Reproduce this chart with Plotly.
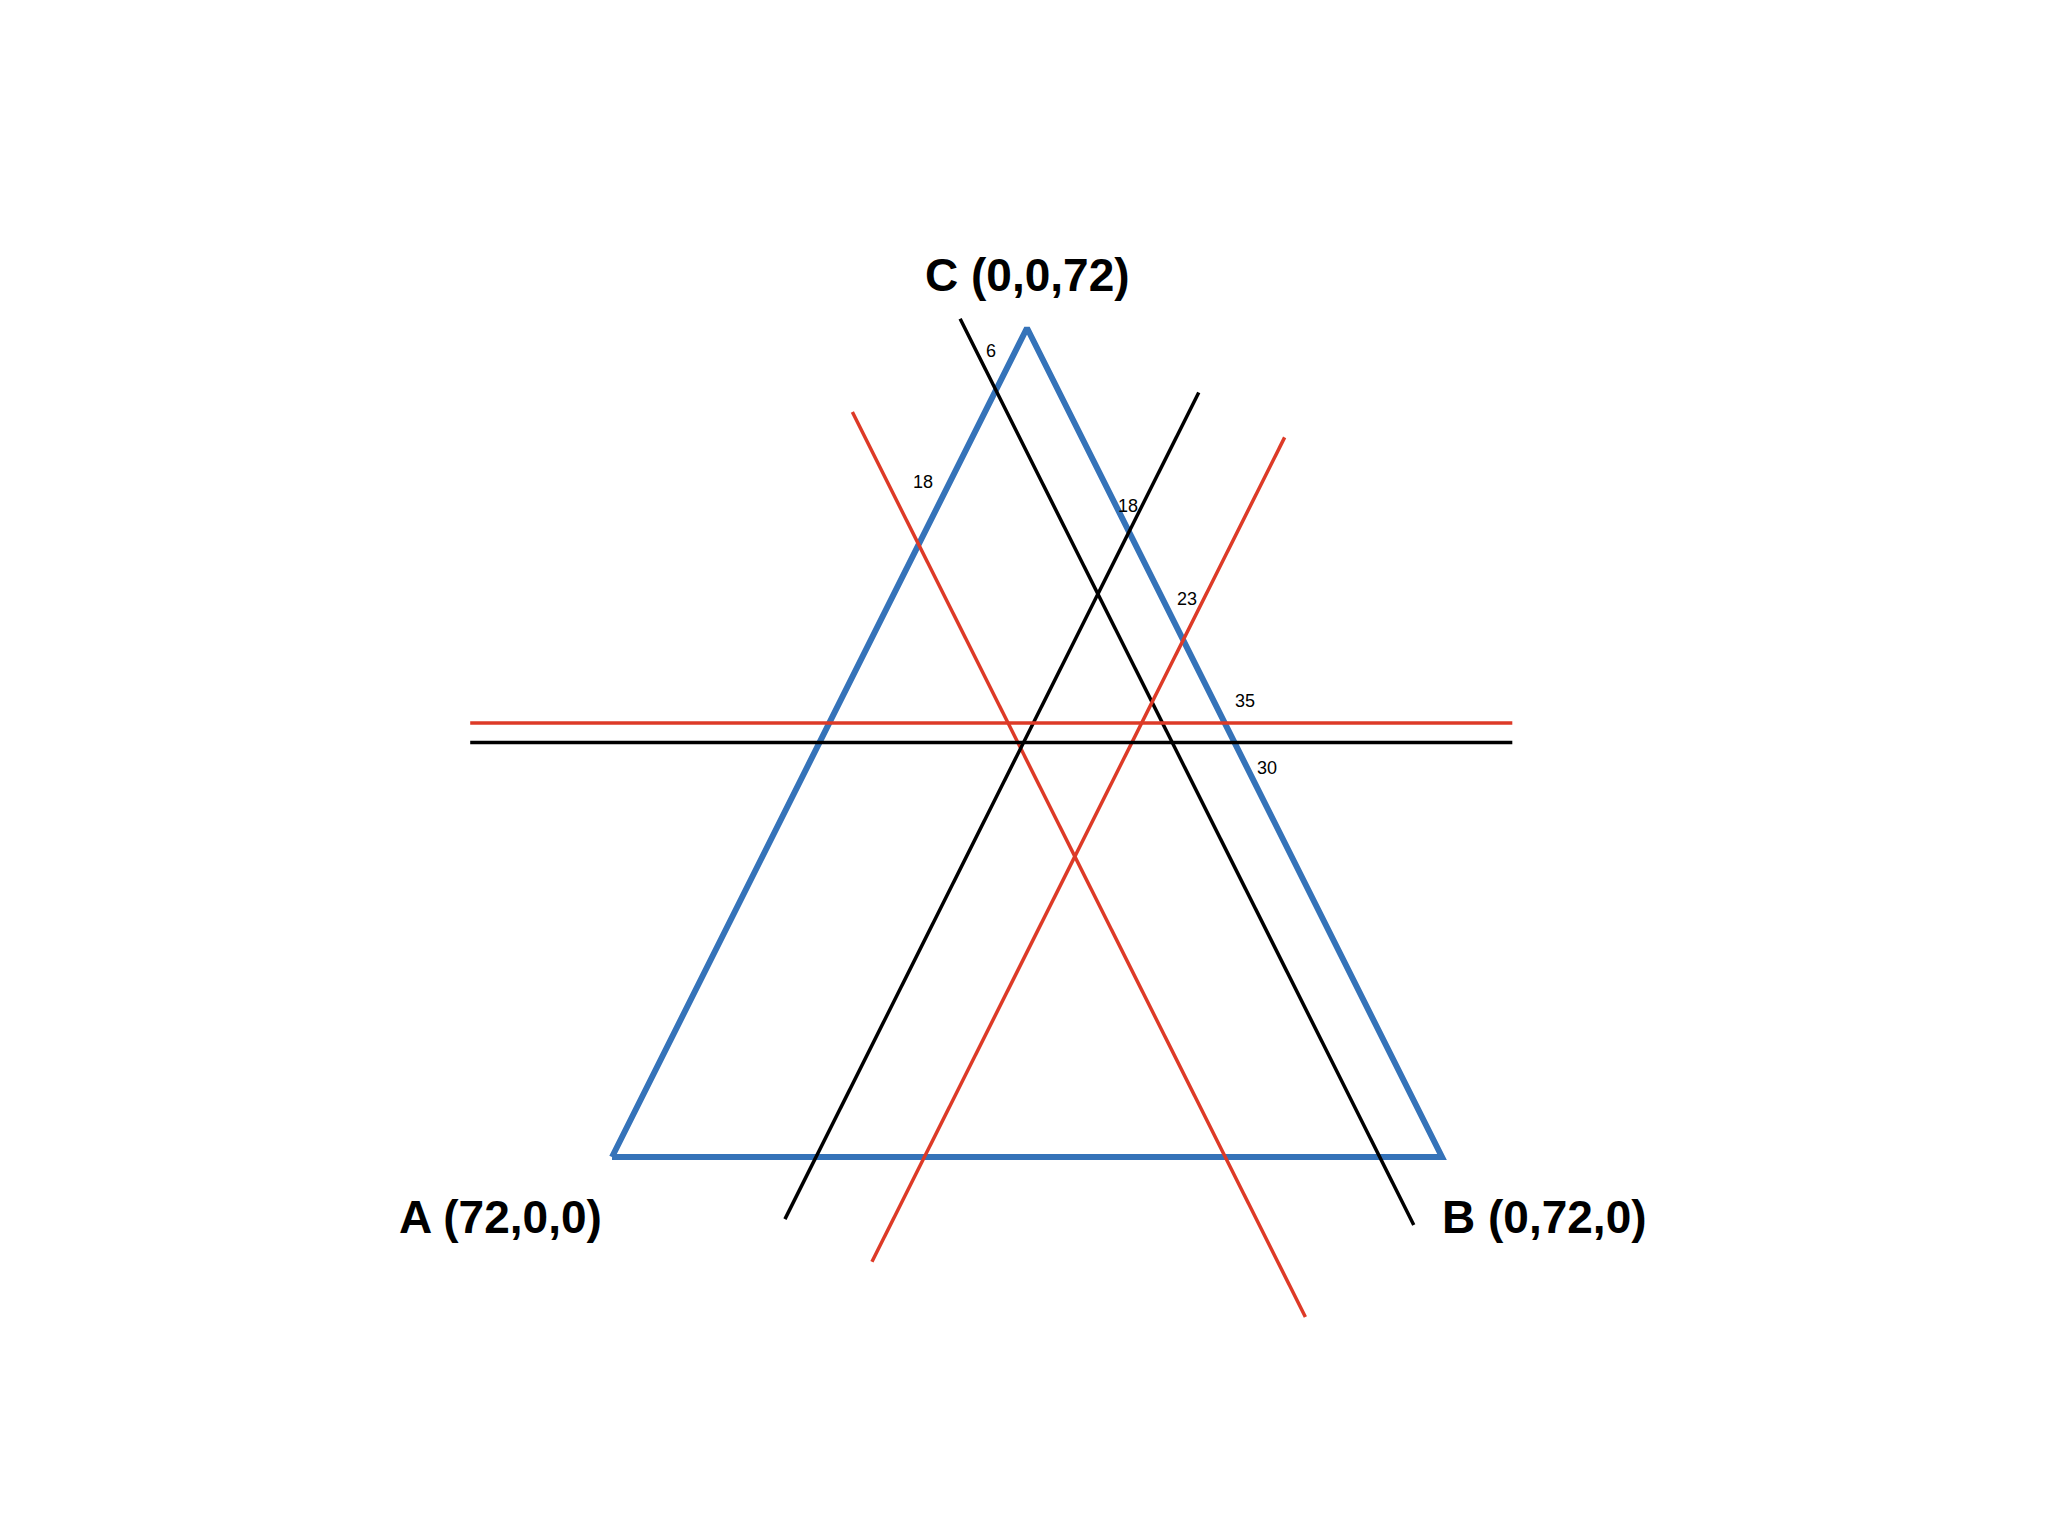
import plotly.graph_objects as go

TOTAL = 72
# triangle vertices (barycentric a, b, c) and their labels
vertex_labels = ["A (72,0,0)", "B (0,72,0)", "C (0,0,72)"]
vertex_abc = [(72, 0, 0), (0, 72, 0), (0, 0, 72)]

# constant-a lines (parallel to BC)
a_values = [5.4, 18.8]
a_colors = ["black", "red"]
# constant-b lines (parallel to AC)
b_values = [17.7, 27.1]
b_colors = ["black", "red"]
# constant-c lines (horizontal)
c_values = [36.0, 37.7]
c_colors = ["black", "red"]

# small value labels
value_labels = ["6", "18", "18", "23", "35", "30"]

COLORS = {"black": "#000000", "red": "#dd3a27", "blue": "#3573b9"}

# drawing extents (in c for slanted lines, in x for horizontal lines)
a_extent = [(-5.9, 72.8), (-13.9, 64.7)]
b_extent = [(-5.4, 66.4), (-9.1, 62.5)]
c_extent = [(-12.3, 78.1), (-12.3, 78.1)]
label_pos = [(32.9, 70.0), (27.0, 58.6), (44.8, 56.5), (49.9, 48.5), (54.9, 39.6), (56.8, 33.8)]
vertex_label_pos = [(-9.7, -5.2), (80.9, -5.2), (36.0, 76.6)]


def to_xy(a, b, c):
    return b + c / 2.0, c


fig = go.Figure()

# triangle outline
tx, ty = [], []
for abc in vertex_abc + [vertex_abc[0]]:
    x, y = to_xy(*abc)
    tx.append(x)
    ty.append(y)
fig.add_trace(go.Scatter(x=tx, y=ty, mode="lines",
                         line=dict(color=COLORS["blue"], width=6),
                         hoverinfo="skip", showlegend=False))

for val, col, (c0, c1) in zip(a_values, a_colors, a_extent):
    pts = [to_xy(val, TOTAL - val - c, c) for c in (c0, c1)]
    fig.add_trace(go.Scatter(x=[p[0] for p in pts], y=[p[1] for p in pts], mode="lines",
                             line=dict(color=COLORS[col], width=3.5),
                             hoverinfo="skip", showlegend=False))

for val, col, (c0, c1) in zip(b_values, b_colors, b_extent):
    pts = [to_xy(TOTAL - val - c, val, c) for c in (c0, c1)]
    fig.add_trace(go.Scatter(x=[p[0] for p in pts], y=[p[1] for p in pts], mode="lines",
                             line=dict(color=COLORS[col], width=3.5),
                             hoverinfo="skip", showlegend=False))

for val, col, (x0, x1) in zip(c_values, c_colors, c_extent):
    fig.add_trace(go.Scatter(x=[x0, x1], y=[val, val], mode="lines",
                             line=dict(color=COLORS[col], width=3.5),
                             hoverinfo="skip", showlegend=False))

annotations = []
for txt, (x, y) in zip(value_labels, label_pos):
    annotations.append(dict(x=x, y=y, text=txt, showarrow=False, xref="x", yref="y",
                            font=dict(family="Liberation Sans, Arial, sans-serif", size=18, color="black")))
for txt, (x, y) in zip(vertex_labels, vertex_label_pos):
    annotations.append(dict(x=x, y=y, text="<b>" + txt + "</b>", showarrow=False, xref="x", yref="y",
                            font=dict(family="Liberation Sans, Arial, sans-serif", size=46, color="black")))

fig.update_layout(
    width=2048, height=1536,
    margin=dict(l=0, r=0, t=0, b=0),
    paper_bgcolor="white", plot_bgcolor="white",
    xaxis=dict(range=[-53.09, 124.57], visible=False, fixedrange=True),
    yaxis=dict(range=[-32.92, 100.49], visible=False, fixedrange=True),
    annotations=annotations,
)

fig.write_html("out.html", config={"displayModeBar": False},
               post_script="document.body.style.margin='0';")
